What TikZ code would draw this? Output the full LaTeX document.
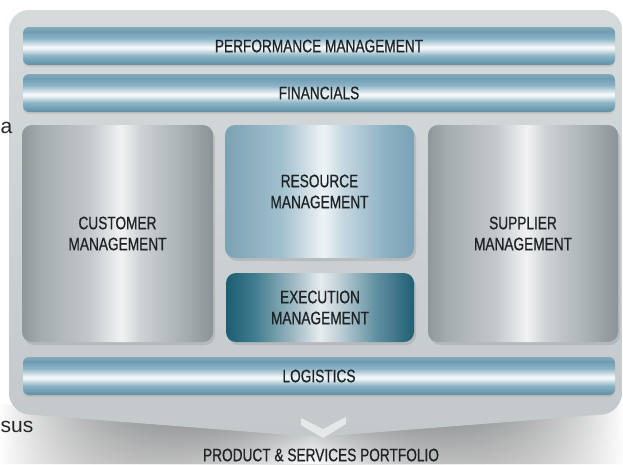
\documentclass[tikz,border=0pt]{standalone}
\usepackage{fontspec}
\newfontfamily\condfont{Liberation Sans}[FakeStretch=0.76,FakeBold=0.6]
\newfontfamily\plainfont{Liberation Sans}
\usetikzlibrary{shadows,fadings}

\definecolor{txt}{HTML}{1E2326}
% bar colours
\definecolor{ba}{HTML}{6D8C99}
\definecolor{bb}{HTML}{6B9BB2}
\definecolor{bc}{HTML}{8FB5C6}
\definecolor{bd}{HTML}{E9F1F4}
\definecolor{be}{HTML}{F6F9FA}
\definecolor{bf}{HTML}{D2E2E9}
\definecolor{bg}{HTML}{8DB3C5}
\definecolor{bh}{HTML}{6F9DB4}
\definecolor{bi}{HTML}{86A8B8}
\pgfdeclareverticalshading{barshade}{100bp}{color(0bp)=(ba); color(25bp)=(ba); color(29bp)=(bb); color(37.5bp)=(bc); color(46bp)=(bd); color(48.5bp)=(be); color(52.5bp)=(bf); color(60bp)=(bg); color(69bp)=(bh); color(75bp)=(bi); color(100bp)=(bi)}
% silver
\definecolor{sa}{HTML}{8F979B}
\definecolor{sb}{HTML}{A5ACB0}
\definecolor{sc}{HTML}{C2C7CA}
\definecolor{sd}{HTML}{F1F3F3}
\definecolor{se}{HTML}{CDD2D4}
\definecolor{sf}{HTML}{A7AEB1}
\definecolor{sg}{HTML}{8C9397}
\pgfdeclarehorizontalshading{silvershade}{100bp}{color(0bp)=(sa); color(25bp)=(sa); color(30bp)=(sb); color(42.5bp)=(sc); color(51bp)=(sd); color(56bp)=(se); color(67.5bp)=(sf); color(75bp)=(sg); color(100bp)=(sg)}
% resource
\definecolor{ra}{HTML}{7AA2B5}
\definecolor{rb}{HTML}{A2C0CE}
\definecolor{rc}{HTML}{EEF3F5}
\definecolor{rd}{HTML}{C7D9E1}
\definecolor{re}{HTML}{8CB1C2}
\definecolor{rf}{HTML}{7AA2B5}
\pgfdeclarehorizontalshading{resshade}{100bp}{color(0bp)=(ra); color(25bp)=(ra); color(40bp)=(rb); color(51bp)=(rc); color(56bp)=(rd); color(67.5bp)=(re); color(75bp)=(rf); color(100bp)=(rf)}
% execution
\definecolor{ea}{HTML}{1C5D72}
\definecolor{eb}{HTML}{3F7C8F}
\definecolor{ec}{HTML}{9BB6C0}
\definecolor{ed}{HTML}{E6ECEE}
\definecolor{ee}{HTML}{C0D0D6}
\definecolor{ef}{HTML}{5F8FA0}
\definecolor{eg}{HTML}{215F73}
\pgfdeclarehorizontalshading{exeshade}{100bp}{color(0bp)=(ea); color(25bp)=(ea); color(32.5bp)=(eb); color(42.5bp)=(ec); color(50bp)=(ed); color(55bp)=(ee); color(65bp)=(ef); color(75bp)=(eg); color(100bp)=(eg)}
% container & shadow
\definecolor{ctop}{HTML}{D5DADB}
\definecolor{cbot}{HTML}{C3C9CB}
\definecolor{shd}{HTML}{9AA0A3}
\definecolor{chev}{HTML}{E4E8E9}
\tikzfading[name=sidefade, left color=transparent!100, right color=transparent!100, middle color=transparent!0]

\tikzset{
  lbl/.style={font=\condfont\fontsize{18pt}{21pt}\selectfont, text=txt, align=center},
  barbox/.style={lbl, shade, shading=barshade, rounded corners=6pt, minimum width=592pt, minimum height=38pt, inner sep=0pt,
     drop shadow={opacity=0.18, shadow xshift=0pt, shadow yshift=-2pt}},
  tile/.style={lbl, shade, rounded corners=10pt, inner sep=0pt,
     drop shadow={opacity=0.25, shadow xshift=2pt, shadow yshift=-3pt}},
  silver/.style={tile, shading=silvershade},
  resource/.style={tile, shading=resshade},
  exec/.style={tile, shading=exeshade},
  frag/.style={font=\plainfont\fontsize{21pt}{21pt}\selectfont, text=black!85, inner sep=0pt}
}

\begin{document}
\begin{tikzpicture}[x=1pt,y=-1pt]
\useasboundingbox (0,0) rectangle (623,464);
\clip (0,0) rectangle (623,464);
\fill[white] (0,0) rectangle (623,464);

% shadow under the container
\fill[top color=shd, bottom color=white, path fading=sidefade]
  (0,404) -- (316,428) -- (623,404) -- (623,464) -- (0,464) -- cycle;

% container
\path[top color=ctop, bottom color=cbot, rounded corners=20pt]
  (9,10) -- (622,10) -- (622,413) -- (316,437) -- (9,413) -- cycle;

% chevron
\fill[chev] (301,418) -- (323,429) -- (346,417) -- (346,424) -- (323,438) -- (301,425) -- cycle;

% bars
\node[barbox] (perf) at (319,46) {PERFORMANCE MANAGEMENT};
\node[barbox] (fin) at (319,93) {FINANCIALS};
\node[barbox] (log) at (319,376) {LOGISTICS};

% tiles
\node[silver, minimum width=191pt, minimum height=217pt] (cust) at (117.5,233.5) {CUSTOMER\\MANAGEMENT};
\node[resource, minimum width=189pt, minimum height=133pt] (res) at (319.5,191.5) {RESOURCE\\MANAGEMENT};
\node[exec, minimum width=188pt, minimum height=69pt] (exe) at (320,307.5) {EXECUTION\\MANAGEMENT};
\node[silver, minimum width=190pt, minimum height=217pt] (sup) at (523,233.5) {SUPPLIER\\MANAGEMENT};

% output label
\node[lbl] (port) at (321,455) {PRODUCT \& SERVICES PORTFOLIO};

% stray text fragments at the left edge
\node[frag, anchor=base west] (fraga) at (0.5,133) {a};
\node[frag, anchor=base west] (fragb) at (0.5,432) {sus};
\end{tikzpicture}
\end{document}
